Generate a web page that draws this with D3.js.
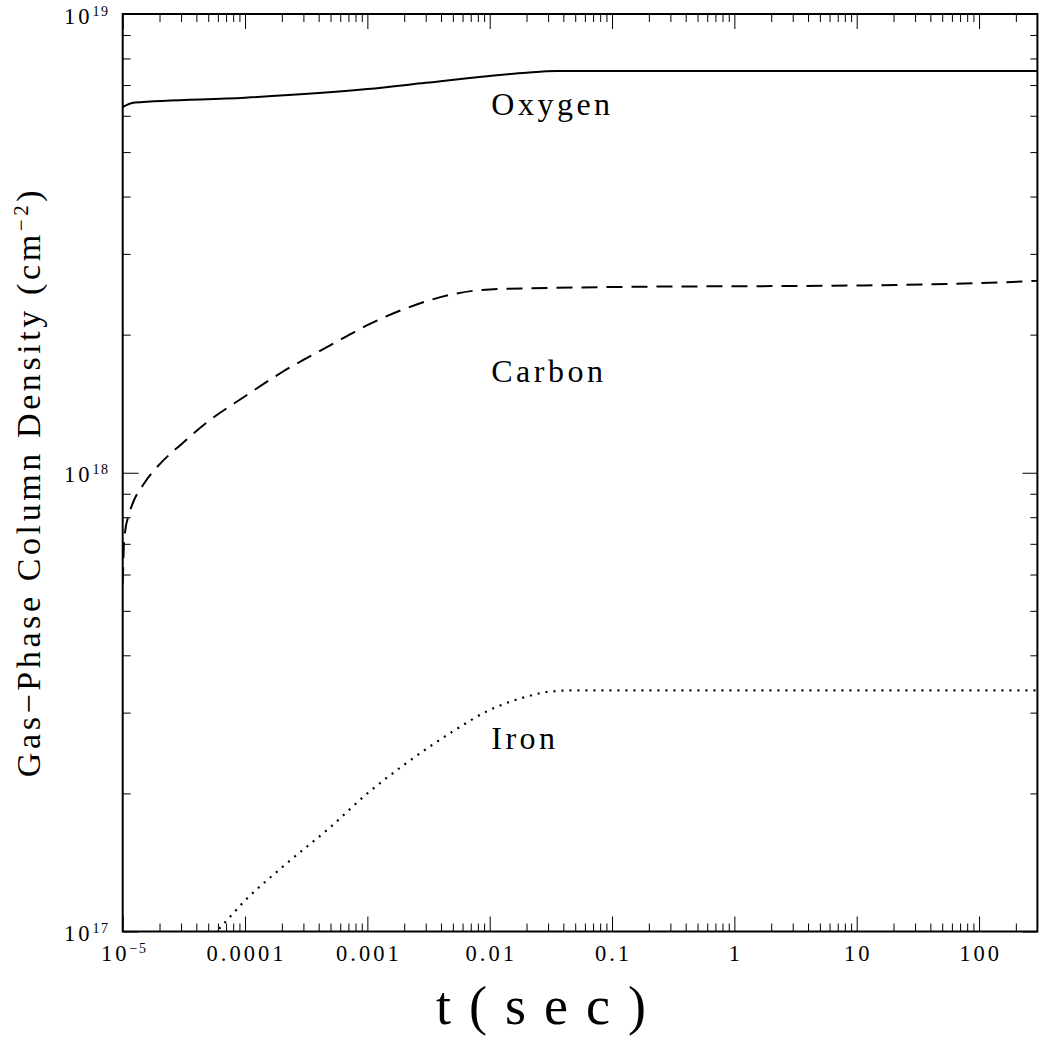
<!DOCTYPE html>
<html><head><meta charset="utf-8">
<script src="https://cdn.jsdelivr.net/npm/d3@7"></script>
<style>
body{margin:0;background:#fff;}
svg{display:block;}
text{font-family:"Liberation Serif","Times New Roman",serif;fill:#000;}
</style></head><body>
<svg id="c" width="1041" height="1040"></svg>
<script>
// ---- data ----
const timeO  = [1e-5, 1.25e-5, 1e-4, 1e-3, 3e-3, 1e-2, 0.02, 0.035, 0.1, 1, 10, 100, 300];
const oxygen = [6.27e18, 6.41e18, 6.57e18, 6.86e18, 7.08e18, 7.33e18, 7.45e18, 7.51e18, 7.51e18, 7.51e18, 7.51e18, 7.51e18, 7.51e18];

const timeC  = [1e-5, 1.02e-5, 1.05e-5, 1.1e-5, 1.2e-5, 1.5e-5, 2e-5, 3e-5, 5e-5, 1e-4, 2e-4, 5e-4, 1e-3, 2e-3, 5e-3, 1e-2, 0.1, 10, 100, 300];
const carbon = [5.74e17, 6.84e17, 7.49e17, 7.96e17, 8.54e17, 9.49e17, 1.043e18, 1.153e18, 1.294e18, 1.468e18, 1.656e18, 1.897e18, 2.098e18, 2.274e18, 2.45e18, 2.51e18, 2.54e18, 2.56e18, 2.59e18, 2.62e18];

const timeFe = [5e-5, 6e-5, 1e-4, 2e-4, 5e-4, 1e-3, 2e-3, 5e-3, 1e-2, 2e-2, 3e-2, 5e-2, 0.1, 1, 10, 100, 300];
const iron   = [9.56e16, 1.007e17, 1.168e17, 1.379e17, 1.69e17, 2.00e17, 2.31e17, 2.73e17, 3.04e17, 3.25e17, 3.33e17, 3.355e17, 3.355e17, 3.355e17, 3.355e17, 3.355e17, 3.355e17];

const seriesNames = ["Oxygen", "Carbon", "Iron"];
const labelAnchorT = [0.0103, 0.0103, 0.0103];
const labelAnchorN = [6.02e18, 1.575e18, 2.496e17];

const xTickValues = [1e-5, 1e-4, 1e-3, 1e-2, 0.1, 1, 10, 100];
const xTickLabels = ["10^−5", "0.0001", "0.001", "0.01", "0.1", "1", "10", "100"];
const yTickValues = [1e17, 1e18, 1e19];
const yTickLabels = ["10^17", "10^18", "10^19"];
const xTitle = "t(sec)";
const yTitleMain = "Gas−Phase Column Density (cm";
const yTitleSup = "−2";
const yTitleEnd = ")";

// ---- layout ----
const svg = d3.select("#c");
const L = 122.7, R = 1037.4, T = 14, B = 931.5;
const x = d3.scaleLog().domain([1e-5, 300]).range([L, R]);
const y = d3.scaleLog().domain([1e17, 1e19]).range([B, T]);

function minors(lo, hi, dmin, dmax) {
  const out = [];
  for (let d = dmin; d <= dmax; d++) for (let k = 2; k <= 9; k++) {
    const v = k * Math.pow(10, d);
    if (v > lo && v < hi) out.push(v);
  }
  return out;
}
const xMinor = minors(1e-5, 300, -5, 2);
const yMinor = minors(1e17, 1e19, 17, 18);

// clip
svg.append("clipPath").attr("id", "clip").append("rect")
  .attr("x", L).attr("y", T).attr("width", R - L).attr("height", B - T);

// ticks
function tickGroup(axis, tx, ty) {
  const g = svg.append("g").attr("transform", `translate(${tx},${ty})`).call(axis);
  g.select(".domain").remove();
  g.selectAll("text").remove();
  g.selectAll("line").attr("stroke", "#000").attr("stroke-width", 1);
  return g;
}
tickGroup(d3.axisBottom(x).tickValues(xTickValues).tickSize(-15).tickFormat(""), 0, B);
tickGroup(d3.axisBottom(x).tickValues(xMinor).tickSize(-8).tickFormat(""), 0, B);
tickGroup(d3.axisTop(x).tickValues(xTickValues).tickSize(-15).tickFormat(""), 0, T);
tickGroup(d3.axisTop(x).tickValues(xMinor).tickSize(-8).tickFormat(""), 0, T);
tickGroup(d3.axisLeft(y).tickValues(yTickValues).tickSize(-16).tickFormat(""), L, 0);
tickGroup(d3.axisLeft(y).tickValues(yMinor).tickSize(-8).tickFormat(""), L, 0);
tickGroup(d3.axisRight(y).tickValues(yTickValues).tickSize(-15).tickFormat(""), R, 0);
tickGroup(d3.axisRight(y).tickValues(yMinor).tickSize(-7).tickFormat(""), R, 0);

// frame
svg.append("rect").attr("x", L).attr("y", T).attr("width", R - L).attr("height", B - T)
  .attr("fill", "none").attr("stroke", "#000").attr("stroke-width", 2);

// tick labels
function addLabel(sel, str) {
  const parts = str.split("^");
  sel.append("tspan").text(parts[0]);
  if (parts.length > 1) {
    sel.append("tspan").attr("dy", -8).attr("font-size", 14).attr("letter-spacing", "1.5px").text(parts[1]);
  }
}
xTickValues.forEach((v, i) => {
  const t = svg.append("text").attr("x", x(v) + 1.5).attr("y", 961)
    .attr("text-anchor", "middle").attr("font-size", 22.5).attr("letter-spacing", "3px");
  addLabel(t, xTickLabels[i]);
});
yTickValues.forEach((v, i) => {
  const t = svg.append("text").attr("x", 109.5).attr("y", y(v) + 9.5)
    .attr("text-anchor", "end").attr("font-size", 22.5).attr("letter-spacing", "3px");
  addLabel(t, yTickLabels[i]);
});

// axis titles
svg.append("text").attr("x", 550).attr("y", 1024).attr("text-anchor", "middle")
  .attr("font-size", 54).attr("letter-spacing", "18px").text(xTitle);
const yt = svg.append("text").attr("transform", "translate(40,482) rotate(-90)")
  .attr("text-anchor", "middle").attr("font-size", 34).attr("letter-spacing", "3.6px");
yt.append("tspan").text(yTitleMain);
yt.append("tspan").attr("dy", -12).attr("font-size", 21).text(yTitleSup);
yt.append("tspan").attr("dy", 12).text(yTitleEnd);

// curves
const line = d3.line().x(d => x(d[0])).y(d => y(d[1])).curve(d3.curveMonotoneX);
const plot = svg.append("g").attr("clip-path", "url(#clip)");
plot.append("path").datum(d3.zip(timeO, oxygen)).attr("d", line)
  .attr("fill", "none").attr("stroke", "#000").attr("stroke-width", 2);
plot.append("path").datum(d3.zip(timeC, carbon)).attr("d", line)
  .attr("fill", "none").attr("stroke", "#000").attr("stroke-width", 2).attr("stroke-dasharray", "16,9");
plot.append("path").datum(d3.zip(timeFe, iron)).attr("d", line)
  .attr("fill", "none").attr("stroke", "#000").attr("stroke-width", 2.2).attr("stroke-dasharray", "2,6");

// series labels
seriesNames.forEach((n, i) => {
  svg.append("text").attr("x", x(labelAnchorT[i])).attr("y", y(labelAnchorN[i]))
    .attr("font-size", 32).attr("letter-spacing", "3.5px").text(n);
});
</script>
</body></html>
